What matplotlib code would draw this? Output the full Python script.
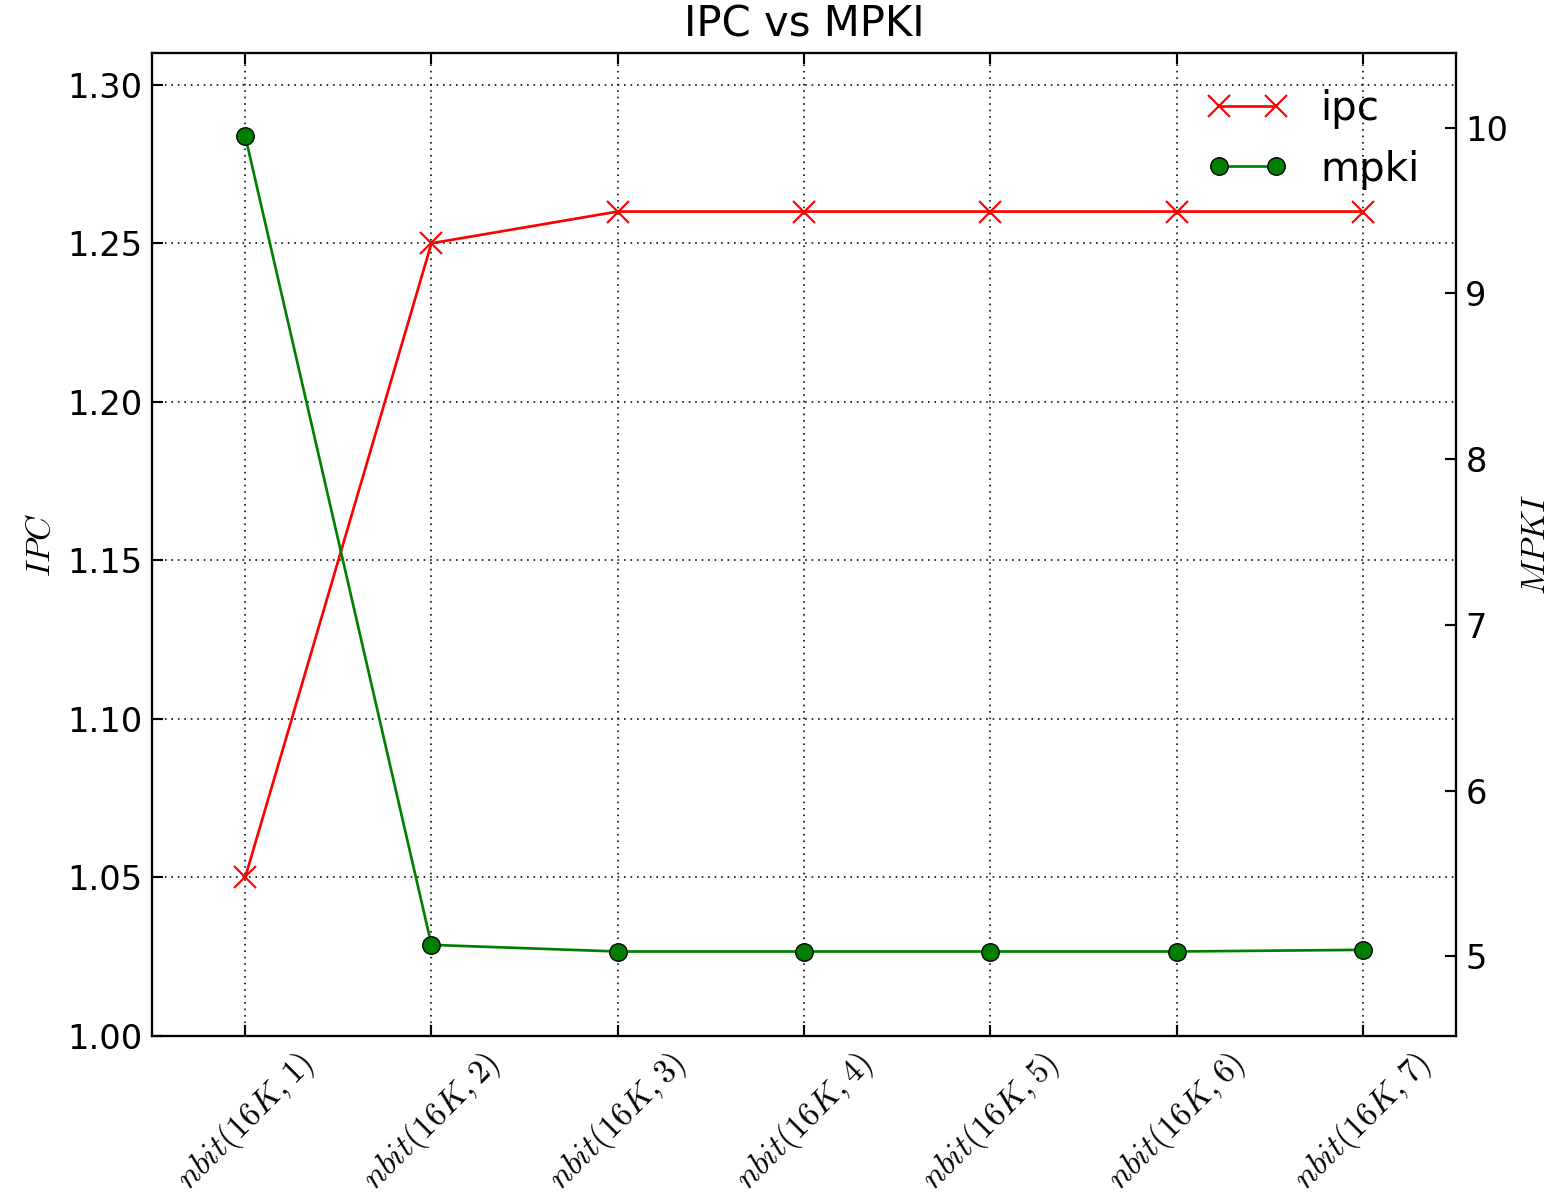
import matplotlib
matplotlib.use("Agg")
import matplotlib.pyplot as plt

# values
labels = [r'$nbit(16K,%d)$' % i for i in range(1, 8)]
ipc = [1.05, 1.25, 1.26, 1.26, 1.26, 1.26, 1.26]
mpki = [9.95, 5.07, 5.03, 5.03, 5.03, 5.03, 5.04]

plt.rcParams['mathtext.fontset'] = 'cm'
plt.rcParams['font.family'] = 'DejaVu Sans'
plt.rcParams['xtick.direction'] = 'in'
plt.rcParams['ytick.direction'] = 'in'
plt.rcParams['xtick.top'] = True

fig = plt.figure(figsize=(1553 / 194, 1199 / 194), dpi=194)
ax1 = fig.add_axes([0.0979, 0.1359, 0.8396, 0.8199])
ax2 = ax1.twinx()

x = list(range(len(labels)))
l1, = ax1.plot(x, ipc, 'r-x', lw=1, ms=8, mew=0.8, label='ipc')
l2, = ax2.plot(x, mpki, '-o', color='green', mfc='#007f00', mec='black',
               mew=0.5, lw=1, ms=6.5, label='mpki')

ax1.set_xlim(-0.5, 6.5)
ax1.set_ylim(1.00, 1.31)
ax1.set_yticks([1.00, 1.05, 1.10, 1.15, 1.20, 1.25, 1.30])
ax2.set_ylim(4.52, 10.45)
ax2.set_yticks([5, 6, 7, 8, 9, 10])

ax1.set_xticks(x)
ax1.set_xticklabels(labels, rotation=45, fontsize=12.5)
ax1.tick_params(axis='y', labelsize=12.5, length=4)
ax1.tick_params(axis='x', length=4)
ax2.tick_params(labelsize=12.5, length=4)
ax1.set_ylabel(r'$IPC$', fontsize=12.5)
ax2.set_ylabel(r'$MPKI$', fontsize=12.5)
ax1.set_title('IPC vs MPKI', fontsize=15.5)

ax1.grid(True, color='black', linestyle=(0, (1, 3)), linewidth=0.6)

ax2.legend([l1, l2], ['ipc', 'mpki'], loc='upper right', frameon=False,
           numpoints=2, fontsize=15)

fig.savefig('out.png', dpi=194)
